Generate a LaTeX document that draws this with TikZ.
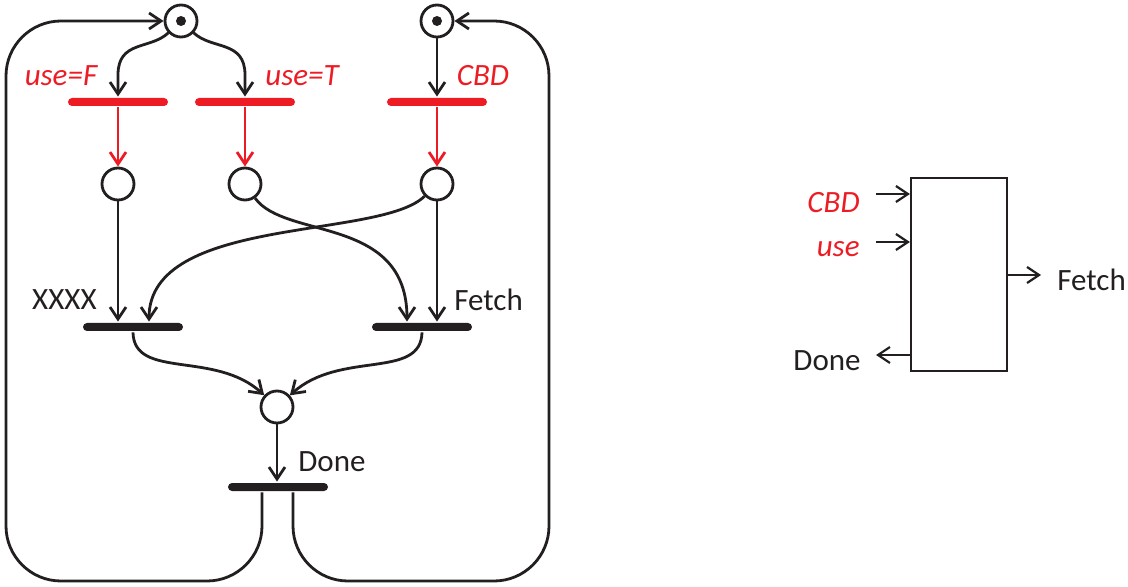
\documentclass[tikz,border=0pt]{standalone}
\usepackage{fontspec}
\setmainfont{Carlito}
\usetikzlibrary{arrows.meta}
\definecolor{pnred}{RGB}{237,28,36}
\definecolor{pnblack}{RGB}{35,31,32}

\begin{document}
\begin{tikzpicture}[x=0.5pt,y=0.5pt,color=pnblack,line width=1.4pt,
    >={Straight Barb[length=6pt,width=8pt]},
    place/.style={circle,draw,minimum size=16pt,inner sep=0pt},
    bar/.style={fill=pnblack,minimum width=50pt,minimum height=4pt,inner sep=0pt,rounded corners=2pt},
    redbar/.style={bar,fill=pnred},
    lbl/.style={font=\fontsize{15.5}{18}\selectfont,inner sep=0pt},
    redlbl/.style={lbl,text=pnred,font=\fontsize{15.5}{18}\selectfont\itshape}]
\useasboundingbox (0,0) rectangle (1128,-587);

\node[place] (p0) at (181,-21) {};
\node[place] (p1) at (437,-21) {};
\fill (p0) circle (2.5pt);
\fill (p1) circle (2.5pt);

\node[redbar] (tF) at (118,-102) {};
\node[redbar] (tT) at (245,-102) {};
\node[redbar] (tC) at (437,-102) {};
\node[redlbl,anchor=base] (lF) at (61,-86) {use=F};
\node[redlbl,anchor=base] (lT) at (302,-86) {use=T};
\node[redlbl,anchor=base] (lC) at (483,-86) {CBD};

\node[place] (q1) at (118,-184) {};
\node[place] (q2) at (245,-184) {};
\node[place] (q3) at (437,-184) {};

\node[bar] (tX) at (133,-327) {};
\node[bar] (tFe) at (422,-327) {};
\node[lbl,anchor=base east] (lX) at (98,-310) {XXXX};
\node[lbl,anchor=base west] (lFe) at (453,-311) {Fetch};

\node[place] (pd) at (277,-407) {};
\node[bar] (tD) at (278,-487) {};
\node[lbl,anchor=base west] (lD) at (297,-471) {Done};

\draw[->] (p0) .. controls (150,-50) and (118,-40) .. (118,-75) -- (tF.north);
\draw[->] (p0) .. controls (212,-50) and (245,-40) .. (245,-75) -- (tT.north);
\draw[->] (p1) -- (tC.north);
\draw[->,pnred] (tF) -- (q1);
\draw[->,pnred] (tT) -- (q2);
\draw[->,pnred] (tC) -- (q3);
\draw[->] (q1) -- (q1 |- tX.north);
\draw[->] (q3) .. controls (380,-240) and (149,-215) .. ([xshift=8pt]tX.north);
\draw[->] (q2) .. controls (285,-240) and (407,-215) .. ([xshift=-7.5pt]tFe.north);
\draw[->] (q3) -- (q3 |- tFe.north);
\draw[->] (tX.south) .. controls (134,-380) and (215,-350) .. (pd);
\draw[->] (tFe.south) .. controls (421,-380) and (340,-350) .. (pd);
\draw[->] (pd) -- (pd |- tD.north);
\draw[->,rounded corners=27.5pt] ([xshift=-8pt]tD.south) |- (6,-581) |- (p0);
\draw[->,rounded corners=27.5pt] ([xshift=7.5pt]tD.south) |- (549,-581) |- (p1);

\node[draw,line width=1.1pt,minimum width=48pt,minimum height=96.5pt,inner sep=0pt] (blk) at (959,-274.5) {};
\coordinate (inC) at (876,-194);
\coordinate (inU) at (876,-242);
\coordinate (outD) at (876,-355);
\coordinate (outF) at (1041,-275);
\draw[->,line width=1.1pt] (inC) -- (inC -| blk.west);
\draw[->,line width=1.1pt] (inU) -- (inU -| blk.west);
\draw[->,line width=1.1pt] (outD -| blk.west) -- (outD);
\draw[->,line width=1.1pt] (outF -| blk.east) -- (outF);
\node[redlbl,anchor=base east] (bC) at (861,-213) {CBD};
\node[redlbl,anchor=base east] (bU) at (861,-257) {use};
\node[lbl,anchor=base east] (bD) at (862,-371) {Done};
\node[lbl,anchor=base west] (bF) at (1056,-291) {Fetch};
\end{tikzpicture}
\end{document}
